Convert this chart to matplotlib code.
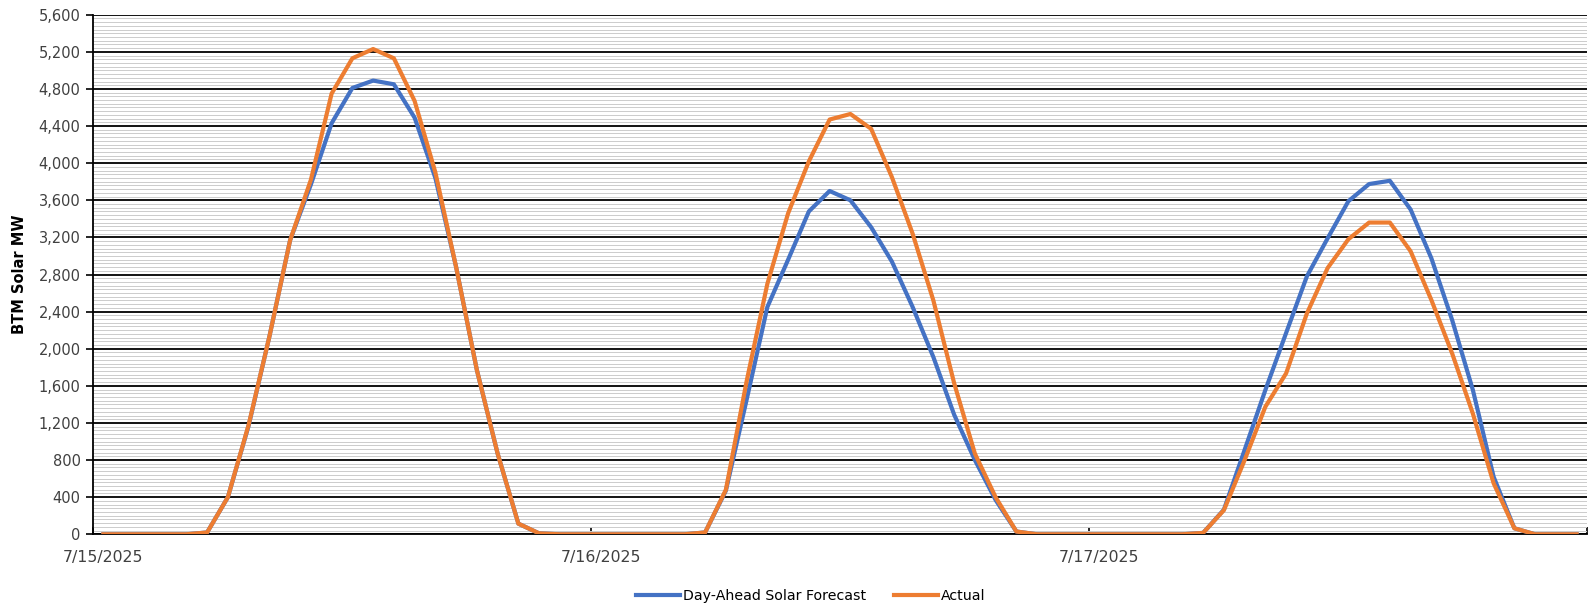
import numpy as np
import pandas as pd
import matplotlib
matplotlib.use("Agg")
import matplotlib.pyplot as plt
from matplotlib.ticker import FuncFormatter

# hourly data, 7/15/2025 00:00 .. 7/17/2025 23:00
hours = pd.date_range("2025-07-15", periods=72, freq="h")

forecast = [
    0, 0, 0, 0, 0, 20, 400, 1170, 2130, 3170, 3770, 4430,
    4810, 4890, 4850, 4490, 3840, 2880, 1770, 870, 115, 10, 0, 0,
    0, 0, 0, 0, 0, 20, 470, 1450, 2450, 2960, 3480, 3700,
    3600, 3310, 2940, 2450, 1910, 1290, 800, 370, 30, 0, 0, 0,
    0, 0, 0, 0, 0, 15, 265, 910, 1555, 2170, 2780, 3190,
    3590, 3775, 3810, 3500, 2975, 2310, 1555, 620, 65, 0, 0, 0,
]
actual = [
    0, 0, 0, 0, 0, 20, 400, 1180, 2130, 3170, 3820, 4750,
    5130, 5230, 5130, 4670, 3900, 2880, 1770, 870, 115, 10, 0, 0,
    0, 0, 0, 0, 0, 20, 480, 1650, 2700, 3460, 4020, 4470,
    4530, 4370, 3850, 3240, 2520, 1630, 870, 400, 30, 0, 0, 0,
    0, 0, 0, 0, 0, 15, 260, 800, 1375, 1735, 2380, 2870,
    3180, 3360, 3360, 3050, 2525, 1950, 1300, 550, 65, 0, 0, 0,
]

series_names = ["Day-Ahead Solar Forecast", "Actual"]
series_colors = ["#4472C4", "#ED7D31"]

plt.rcParams["font.family"] = ["DejaVu Sans"]

fig = plt.figure(figsize=(15.88, 6.08), dpi=100)
ax = fig.add_axes([93 / 1588, 73.7 / 608, 1494 / 1588, 519.6 / 608])

x = np.arange(len(hours))
for vals, name, col in zip([forecast, actual], series_names, series_colors):
    ax.plot(x, vals, color=col, lw=3.0, label=name, zorder=3)

# y axis
ax.set_ylim(0, 5600)
ax.set_yticks(np.arange(0, 5601, 400))
ax.set_yticks(np.arange(0, 5601, 40), minor=True)
ax.yaxis.set_major_formatter(FuncFormatter(lambda v, p: f"{int(v):,}"))
ax.tick_params(axis="y", which="major", direction="out", length=5, width=1.2,
               labelsize=10.5, labelcolor="#404040", pad=4)
ax.tick_params(axis="y", which="minor", length=0)
ax.grid(axis="y", which="major", color="black", lw=1.3, zorder=1)
ax.grid(axis="y", which="minor", color="#cccccc", lw=0.7, zorder=0)
ax.set_ylabel("BTM Solar MW", fontsize=10.5, fontweight="bold", labelpad=8)

# x axis: category axis, day boundaries as ticks, dates under first hour
ax.set_xlim(-0.5, len(hours) - 0.5)
day_starts = [i for i, h in enumerate(hours) if h.hour == 0]
ax.set_xticks([i - 0.5 for i in day_starts] + [len(hours) - 0.5])
ax.set_xticklabels([])
ax.set_xticks(day_starts, minor=True)
ax.set_xticklabels([f"{hours[i].month}/{hours[i].day}/{hours[i].year}" for i in day_starts],
                   minor=True)
ax.tick_params(axis="x", which="major", direction="in", length=5, width=1.2)
ax.tick_params(axis="x", which="minor", length=0, labelsize=11.3,
               labelcolor="#404040", pad=11)

for s in ["top", "right"]:
    ax.spines[s].set_visible(False)
for s in ["left", "bottom"]:
    ax.spines[s].set_linewidth(1.3)
    ax.spines[s].set_color("black")

fig.legend(loc="center", bbox_to_anchor=(811 / 1588, 1 - 596 / 608), ncol=2,
           frameon=False, fontsize=10.2, handlelength=3.1, handletextpad=0.2,
           columnspacing=2.0)

fig.savefig("out.png", dpi=100)
